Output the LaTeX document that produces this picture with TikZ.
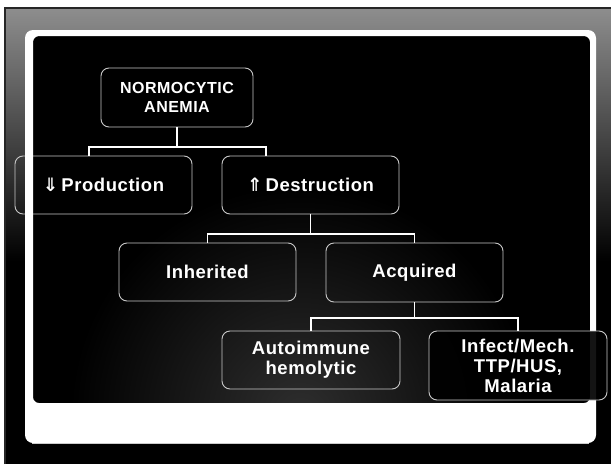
\documentclass[tikz,border=0pt]{standalone}
\usepackage{fontspec}
\setmainfont{Liberation Sans}[LetterSpace=3]
\newfontfamily\arrowfont{DejaVu Sans}
\definecolor{slidegray}{HTML}{8E8E8E}
\definecolor{edgegray}{HTML}{C8C8C8}
\definecolor{glow}{HTML}{2E2E2E}
\tikzset{
  box/.style={draw=edgegray, line width=0.9pt, rounded corners=8pt,
    align=center, text=white, inner sep=0pt,
    font=\fontsize{18.5}{20}\selectfont\bfseries},
  headbox/.style={box, font=\fontsize{16}{19.5}\selectfont\bfseries},
  link/.style={draw=white, line width=1.7pt},
}
\begin{document}
\begin{tikzpicture}[x=1pt, y=-1pt]
\useasboundingbox (0,0) rectangle (611,464);
% page and slide background
\fill[white] (0,0) rectangle (611,464);
\shade[top color=slidegray, bottom color=black] (4,7) rectangle (611,262);
\fill[black] (4,261) rectangle (611,464);
\draw[black!85, line width=2pt] (5,464) -- (5,8) -- (611,8);
% inner black panel with a soft glow near the bottom
\fill[black, rounded corners=6pt] (33,36) rectangle (590,403);
\begin{scope}
  \clip[rounded corners=6pt] (33,36) rectangle (590,403);
  \shade[inner color=glow, outer color=black] (300,415) circle (230);
\end{scope}

% boxes
\node[headbox, minimum width=152pt, minimum height=59pt] (top) at (177,97.5)
  {NORMOCYTIC\\ANEMIA};
\node[box, minimum width=177pt, minimum height=58pt] (prod) at (103.5,185)
  {{\arrowfont ⇓}\,Production};
\node[box, minimum width=177pt, minimum height=58pt] (dest) at (310.5,185)
  {{\arrowfont ⇑}\,Destruction};
\node[box, minimum width=177pt, minimum height=58pt] (inh) at (207.5,272)
  {Inherited};
\node[box, minimum width=177pt, minimum height=59pt] (acq) at (414.5,272.5)
  {Acquired};
\node[box, minimum width=178pt, minimum height=58pt] (auto) at (311,360)
  {Autoimmune\\hemolytic};

% white frame around the black panel
\fill[white, even odd rule]
  [rounded corners=8pt] (25,30) rectangle (596,443)
  [rounded corners=6pt] (33,36) rectangle (590,403);
\draw[black!20, line width=0.8pt] (32,443.3) -- (589,443.3);

\node[box, fill=black, fill opacity=0.92, text opacity=1,
  minimum width=178pt, minimum height=69pt] (inf) at (518,365.5)
  {Infect/Mech.\\TTP/HUS,\\Malaria};

% connectors
\coordinate (j1) at (177,147);
\coordinate (j2) at (310.5,234);
\coordinate (j3) at (414.5,318);
\draw[link] (top.south) -- (j1);
\draw[link] ([xshift=-14.5pt]prod.north) |- (j1) -| ([xshift=-44.5pt]dest.north);
\draw[link] (dest.south) -- (j2);
\draw[link] (inh.north) |- (j2) -| (acq.north);
\draw[link] (acq.south) -- (j3);
\draw[link] (auto.north) |- (j3) -| (inf.north);
\end{tikzpicture}
\end{document}
